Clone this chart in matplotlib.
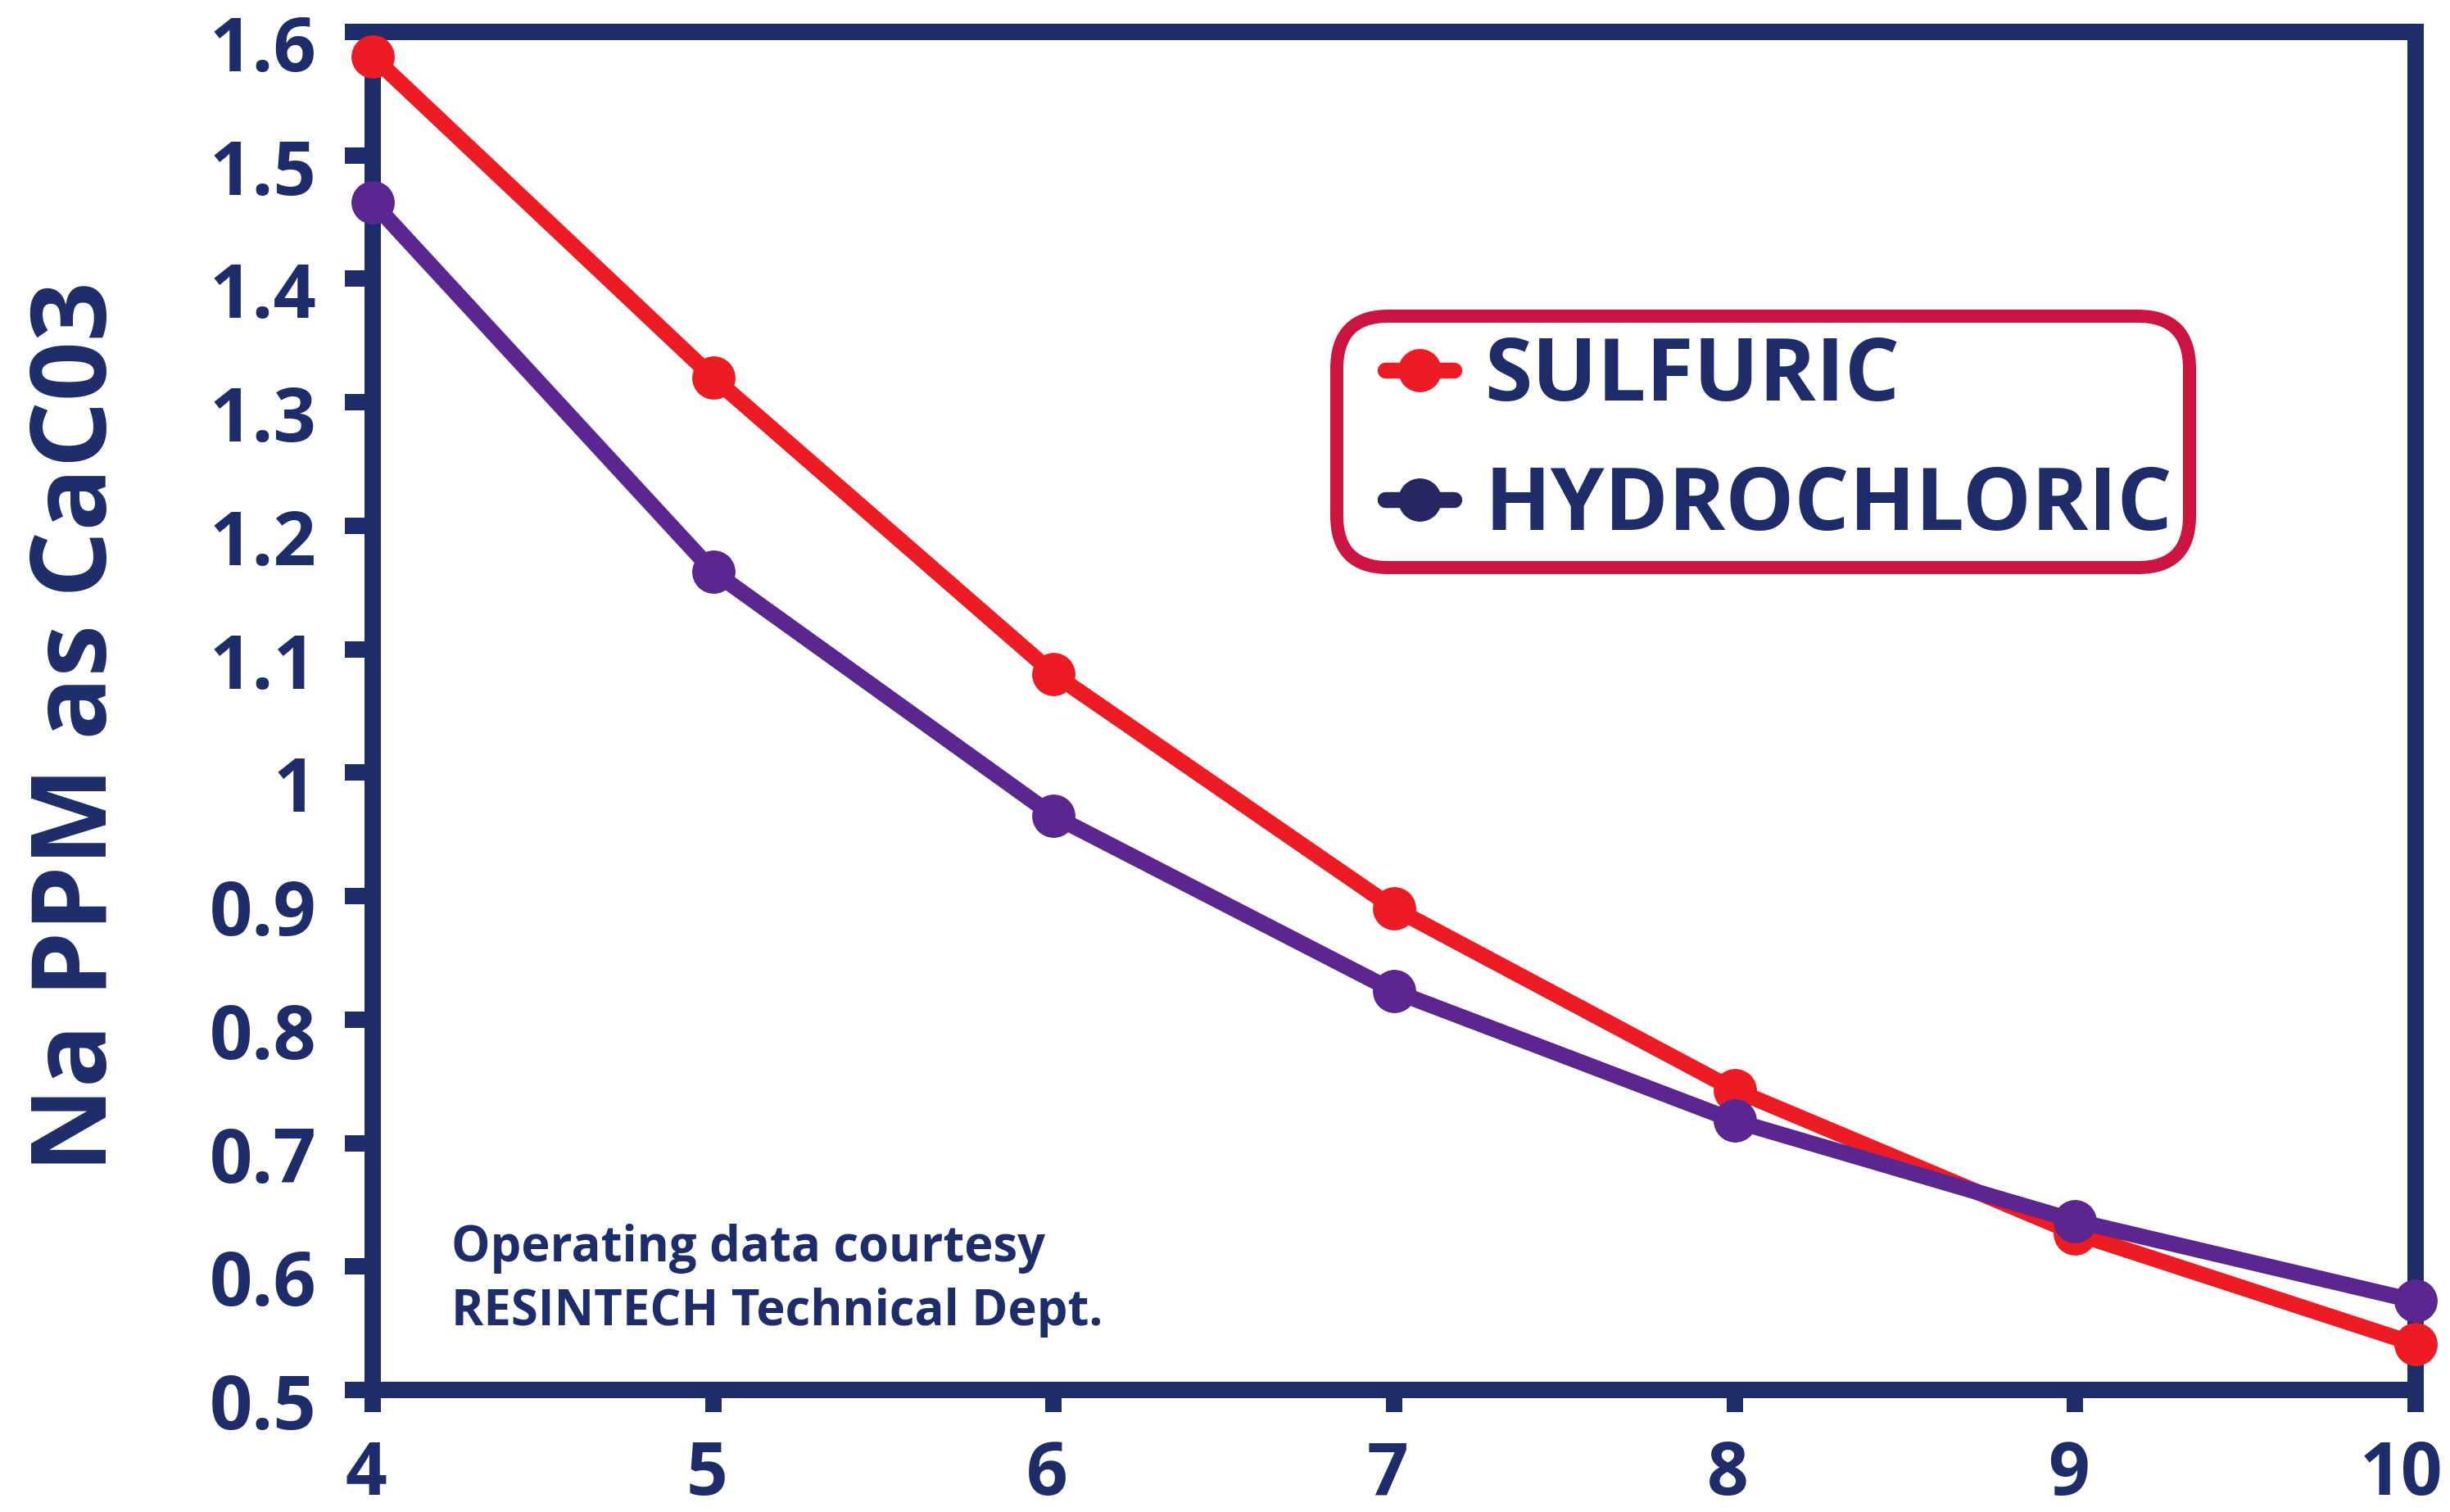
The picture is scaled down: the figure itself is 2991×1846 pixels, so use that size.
import matplotlib
matplotlib.use("Agg")
import matplotlib.pyplot as plt
from matplotlib.lines import Line2D
from matplotlib.legend_handler import HandlerLine2D
from matplotlib.transforms import ScaledTranslation

# Sodium leakage vs. regenerant level, two acid regenerants
regen_level = [4, 5, 6, 7, 8, 9, 10]
sulfuric = [1.58, 1.32, 1.08, 0.89, 0.743, 0.627, 0.537]
hydrochloric = [1.462, 1.163, 0.965, 0.823, 0.718, 0.637, 0.572]
series_names = ["SULFURIC", "HYDROCHLORIC"]

x_ticks = [4, 5, 6, 7, 8, 9, 10]
x_tick_labels = ["4", "5", "6", "7", "8", "9", "10"]
y_ticks = [0.5, 0.6, 0.7, 0.8, 0.9, 1.0, 1.1, 1.2, 1.3, 1.4, 1.5, 1.6]
y_tick_labels = ["0.5", "0.6", "0.7", "0.8", "0.9", "1", "1.1", "1.2",
                 "1.3", "1.4", "1.5", "1.6"]
y_label = "Na PPM as CaC03"
note = "Operating data courtesy\nRESINTECH Technical Dept."

NAVY = "#1E2D69"
RED = "#ED1C24"
PURPLE = "#5B2690"
LEGEND_NAVY = "#272660"
CRIMSON = "#CC1441"
FONT = ["Open Sans", "DejaVu Sans"]

plt.rcParams["font.family"] = FONT
plt.rcParams["font.weight"] = "bold"

fig = plt.figure(figsize=(29.91, 18.46), dpi=100)
ax = fig.add_axes([0.1521, 0.0807, 0.8339, 0.8982])

line_kw = dict(linewidth=14, marker="o", markersize=37, clip_on=False,
               zorder=3, solid_joinstyle="round", solid_capstyle="round")
ax.plot(regen_level, sulfuric, color=RED, label=series_names[0], **line_kw)
ax.plot(regen_level, hydrochloric, color=PURPLE, label=series_names[1],
        **line_kw)

ax.set_xlim(4, 10)
ax.set_ylim(0.5, 1.6)
ax.set_xticks(x_ticks)
ax.set_xticklabels(x_tick_labels)
ax.set_yticks(y_ticks)
ax.set_yticklabels(y_tick_labels)

for side in ["left", "right", "top", "bottom"]:
    ax.spines[side].set_color(NAVY)
    ax.spines[side].set_linewidth(14.4)

ax.tick_params(axis="both", direction="out", color=NAVY, width=14.4,
               labelcolor=NAVY)
ax.tick_params(axis="y", length=24.5, pad=25, labelsize=66)
ax.tick_params(axis="x", length=19.5, pad=24, labelsize=64)

# y tick labels sit slightly below their ticks
shift_y = ScaledTranslation(0, -0.13, fig.dpi_scale_trans)
for lab in ax.get_yticklabels():
    lab.set_transform(lab.get_transform() + shift_y)

# x tick labels nudged left, the last one a little more
xlabels = ax.get_xticklabels()
for i, lab in enumerate(xlabels):
    dx = -0.18 if i == len(xlabels) - 1 else -0.08
    lab.set_transform(lab.get_transform()
                      + ScaledTranslation(dx, 0, fig.dpi_scale_trans))

fig.text(0.0325, 1 - 887 / 1846, y_label, rotation=90, ha="center",
         va="center", color=NAVY, fontsize=92, fontweight="bold")

ax.text(0.0385, 0.0386, note, transform=ax.transAxes, ha="left",
        va="bottom", color=NAVY, fontsize=43, fontweight="bold",
        linespacing=1.38)

leg = ax.legend(loc="upper left", bbox_to_anchor=(0.4719, 0.7904),
                borderaxespad=0, fontsize=76, handlelength=1.16,
                handletextpad=0.35, labelspacing=0.5, borderpad=0.2,
                frameon=True, fancybox=True, framealpha=1,
                handler_map={Line2D: HandlerLine2D(xpad=0.36)})
frame = leg.get_frame()
frame.set_edgecolor(CRIMSON)
frame.set_linewidth(11.5)
frame.set_boxstyle("round,pad=0,rounding_size=0.6")
for txt in leg.get_texts():
    txt.set_color(NAVY)
    txt.set_fontweight("bold")
handles = leg.legend_handles
handles[1].set_color(LEGEND_NAVY)
handles[1].set_markerfacecolor(LEGEND_NAVY)
handles[1].set_markeredgecolor(LEGEND_NAVY)

fig.savefig("out.png", dpi=100, facecolor="white")
